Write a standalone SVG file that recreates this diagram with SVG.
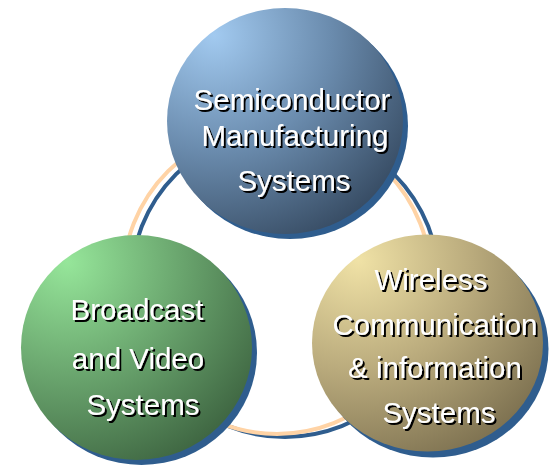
<svg xmlns="http://www.w3.org/2000/svg" width="551" height="466" viewBox="0 0 551 466">
<defs>
  <radialGradient id="gBlue" cx="0.2" cy="0.15" r="1.0" fx="0.2" fy="0.12">
    <stop offset="0" stop-color="#a2caf0"/>
    <stop offset="0.5" stop-color="#6a8bad"/>
    <stop offset="1" stop-color="#34485f"/>
  </radialGradient>
  <radialGradient id="gGreen" cx="0.2" cy="0.15" r="1.0" fx="0.2" fy="0.12">
    <stop offset="0" stop-color="#96e69a"/>
    <stop offset="0.5" stop-color="#69a46d"/>
    <stop offset="1" stop-color="#3c623f"/>
  </radialGradient>
  <radialGradient id="gGold" cx="0.2" cy="0.15" r="1.0" fx="0.2" fy="0.12">
    <stop offset="0" stop-color="#f0e2a6"/>
    <stop offset="0.5" stop-color="#b9aa7c"/>
    <stop offset="1" stop-color="#7a6e4e"/>
  </radialGradient>
  <filter id="ts" x="-10%" y="-30%" width="130%" height="170%">
    <feDropShadow dx="2" dy="2" stdDeviation="0.4" flood-color="#000000" flood-opacity="1"/>
  </filter>
</defs>
<style>
  .shadow { fill: #2f5d8e; }
  .lbl { font-family: "Liberation Sans", Arial, sans-serif; font-size: 29.5px; fill: #ffffff; text-anchor: middle; filter: url(#ts); }
  .ringA { fill: none; stroke: #ffd3a5; stroke-width: 4; }
  .ringB { fill: none; stroke: #2f5d8e; stroke-width: 4; }
</style>
<g id="connectors">
  <circle class="ringB" cx="285" cy="283" r="154"/>
  <circle class="ringA" cx="277" cy="280" r="154"/>
</g>
<g id="semiconductor">
  <ellipse class="shadow" cx="290" cy="126" rx="118" ry="113"/>
  <ellipse cx="285" cy="121" rx="118" ry="113" fill="url(#gBlue)"/>
  <text class="lbl" x="292" y="110">Semiconductor</text>
  <text class="lbl" x="295" y="146">Manufacturing</text>
  <text class="lbl" x="294" y="191">Systems</text>
</g>
<g id="broadcast">
  <ellipse class="shadow" cx="141.5" cy="352.5" rx="115.5" ry="112.5"/>
  <ellipse cx="136.5" cy="347.5" rx="115.5" ry="112.5" fill="url(#gGreen)"/>
  <text class="lbl" x="137" y="320">Broadcast</text>
  <text class="lbl" x="138" y="369">and Video</text>
  <text class="lbl" x="143" y="415">Systems</text>
</g>
<g id="wireless">
  <ellipse class="shadow" cx="433" cy="349" rx="115.5" ry="108.5"/>
  <ellipse cx="427.5" cy="343" rx="115.5" ry="108.5" fill="url(#gGold)"/>
  <text class="lbl" x="431" y="290">Wireless</text>
  <text class="lbl" x="435" y="335">Communication</text>
  <text class="lbl" x="435" y="378">&amp; information</text>
  <text class="lbl" x="439" y="423">Systems</text>
</g>
</svg>
